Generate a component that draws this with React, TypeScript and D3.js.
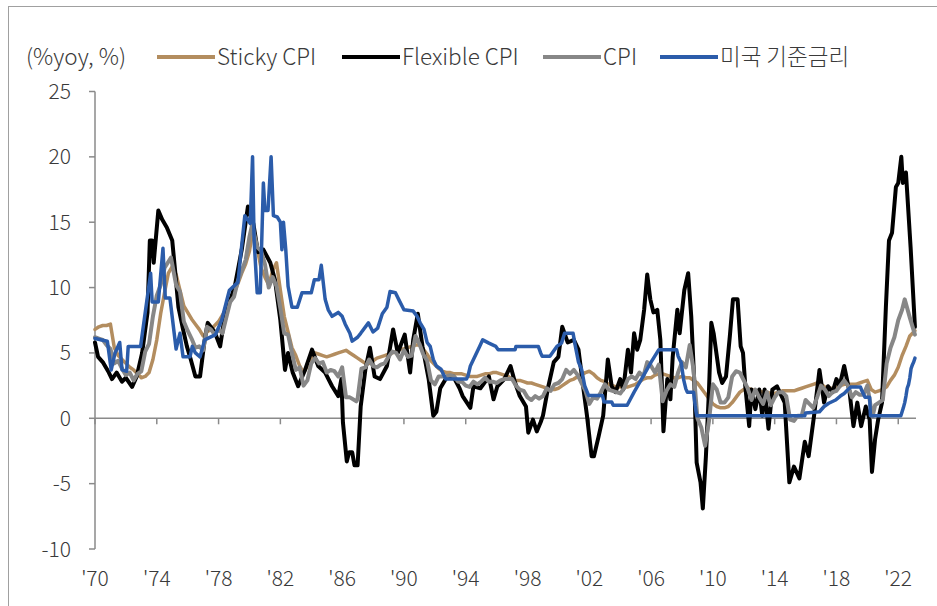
import React from "react";
import * as d3 from "d3";

type Pt = [number, number];

const legendLabels = ["Sticky CPI", "Flexible CPI", "CPI", "미국 기준금리"];
const seriesColors = ["#B38D5F", "#000000", "#878787", "#2B5CAA"];
const seriesWidths = [3.5, 4, 4, 3.5];
const yTicks = [25, 20, 15, 10, 5, 0, -5, -10];
const xTickYears = [1970, 1974, 1978, 1982, 1986, 1990, 1994, 1998, 2002, 2006, 2010, 2014, 2018, 2022];
const xTickLabels = ["'70", "'74", "'78", "'82", "'86", "'90", "'94", "'98", "'02", "'06", "'10", "'14", "'18", "'22"];
const unitLabel = "(%yoy, %)";

const stickyCPI: Pt[] = [
  [1970, 6.8], [1970.25, 7.0], [1970.5, 7.1], [1970.75, 7.1],
  [1971, 7.2], [1971.25, 5.4], [1971.5, 4.8], [1971.75, 4.5],
  [1972, 4.2], [1972.25, 3.9], [1972.5, 3.7], [1972.75, 3.4],
  [1973, 3.1], [1973.25, 3.2], [1973.5, 3.5], [1973.75, 4.5],
  [1974, 6.0], [1974.25, 8.0], [1974.5, 9.6], [1974.75, 11.1],
  [1975, 11.6], [1975.25, 11.0], [1975.5, 9.8], [1975.75, 8.6],
  [1976, 8.1], [1976.25, 7.6], [1976.5, 7.2], [1976.75, 6.8],
  [1977, 6.3], [1977.25, 6.6], [1977.5, 6.8], [1977.75, 7.1],
  [1978, 7.4], [1978.25, 7.9], [1978.5, 8.3], [1978.75, 9.0],
  [1979, 9.6], [1979.25, 10.3], [1979.5, 11.1], [1979.75, 11.8],
  [1980, 12.8], [1980.25, 14.6], [1980.5, 13.0], [1980.75, 11.5],
  [1981, 10.8], [1981.25, 10.2], [1981.5, 11.3], [1981.75, 11.9],
  [1982, 9.8], [1982.25, 7.8], [1982.5, 6.6], [1982.75, 5.4],
  [1983, 4.8], [1983.25, 4.0], [1983.5, 3.5], [1983.75, 4.0],
  [1984, 4.5], [1984.25, 5.0], [1984.5, 4.9], [1984.75, 4.8],
  [1985, 4.7], [1985.25, 4.8], [1985.5, 4.9], [1985.75, 5.0],
  [1986, 5.1], [1986.25, 5.2], [1986.5, 5.0], [1986.75, 4.8],
  [1987, 4.6], [1987.25, 4.4], [1987.5, 4.2], [1987.75, 4.2],
  [1988, 4.4], [1988.25, 4.6], [1988.5, 4.7], [1988.75, 4.8],
  [1989, 4.9], [1989.25, 5.0], [1989.5, 5.1], [1989.75, 5.3],
  [1990, 5.3], [1990.25, 5.4], [1990.5, 5.5], [1990.75, 5.6],
  [1991, 5.6], [1991.25, 5.3], [1991.5, 4.9], [1991.75, 4.4],
  [1992, 4.1], [1992.25, 3.8], [1992.5, 3.6], [1992.75, 3.5],
  [1993, 3.5], [1993.25, 3.4], [1993.5, 3.4], [1993.75, 3.4],
  [1994, 3.3], [1994.25, 3.2], [1994.5, 3.2], [1994.75, 3.2],
  [1995, 3.3], [1995.25, 3.4], [1995.5, 3.4], [1995.75, 3.5],
  [1996, 3.5], [1996.25, 3.4], [1996.5, 3.3], [1996.75, 3.2],
  [1997, 3.0], [1997.25, 2.9], [1997.5, 2.9], [1997.75, 2.8],
  [1998, 2.7], [1998.25, 2.7], [1998.5, 2.6], [1998.75, 2.5],
  [1999, 2.4], [1999.25, 2.3], [1999.5, 2.2], [1999.75, 2.2],
  [2000, 2.3], [2000.25, 2.5], [2000.5, 2.7], [2000.75, 2.9],
  [2001, 3.0], [2001.25, 3.2], [2001.5, 3.3], [2001.75, 3.5],
  [2002, 3.6], [2002.25, 3.4], [2002.5, 3.1], [2002.75, 2.9],
  [2003, 2.8], [2003.25, 2.6], [2003.5, 2.5], [2003.75, 2.4],
  [2004, 2.4], [2004.25, 2.4], [2004.5, 2.4], [2004.75, 2.5],
  [2005, 2.6], [2005.25, 2.8], [2005.5, 3.0], [2005.75, 3.1],
  [2006, 3.1], [2006.25, 3.3], [2006.5, 3.4], [2006.75, 3.4],
  [2007, 3.3], [2007.25, 3.2], [2007.5, 3.1], [2007.75, 3.1],
  [2008, 3.2], [2008.25, 3.1], [2008.5, 3.1], [2008.75, 2.9],
  [2009, 2.7], [2009.25, 2.3], [2009.5, 1.9], [2009.75, 1.5],
  [2010, 1.1], [2010.25, 0.9], [2010.5, 0.8], [2010.75, 0.8],
  [2011, 0.9], [2011.25, 1.2], [2011.5, 1.6], [2011.75, 2.0],
  [2012, 2.2], [2012.25, 2.3], [2012.5, 2.2], [2012.75, 2.1],
  [2013, 2.1], [2013.25, 2.0], [2013.5, 2.0], [2013.75, 1.9],
  [2014, 1.9], [2014.25, 2.0], [2014.5, 2.1], [2014.75, 2.1],
  [2015, 2.1], [2015.25, 2.1], [2015.5, 2.2], [2015.75, 2.3],
  [2016, 2.4], [2016.25, 2.5], [2016.5, 2.6], [2016.75, 2.7],
  [2017, 2.6], [2017.25, 2.4], [2017.5, 2.3], [2017.75, 2.3],
  [2018, 2.4], [2018.25, 2.5], [2018.5, 2.6], [2018.75, 2.6],
  [2019, 2.6], [2019.25, 2.6], [2019.5, 2.7], [2019.75, 2.8],
  [2020, 2.9], [2020.25, 2.2], [2020.5, 2.0], [2020.75, 2.1],
  [2021, 2.2], [2021.25, 2.4], [2021.5, 2.9], [2021.75, 3.3],
  [2022, 3.9], [2022.25, 4.8], [2022.5, 5.5], [2022.75, 6.3],
  [2023.08, 6.7],
];

const flexibleCPI: Pt[] = [
  [1970, 5.8], [1970.2, 4.7], [1970.5, 4.3], [1970.85, 3.6], [1971.1, 3.0], [1971.4, 3.5],
  [1971.75, 2.8], [1972, 3.1], [1972.4, 2.4], [1972.7, 3.2], [1973.05, 5.0], [1973.4, 8.1],
  [1973.55, 13.6], [1973.7, 13.6], [1973.8, 11.9], [1974.1, 15.9], [1974.35, 15.2], [1974.65, 14.6],
  [1975, 13.6], [1975.2, 11.1], [1975.4, 8.5], [1975.7, 6.8], [1975.95, 5.5], [1976.2, 4.5],
  [1976.5, 3.2], [1976.8, 3.2], [1977.1, 6.0], [1977.3, 7.3], [1977.75, 6.6], [1978.1, 5.5],
  [1978.4, 7.8], [1979.05, 10.1], [1979.5, 12.9], [1979.9, 16.2], [1980.25, 14.9], [1980.55, 12.7],
  [1980.9, 12.9], [1981.35, 11.9], [1981.65, 10.6], [1982, 7.5], [1982.3, 3.7], [1982.5, 5.0],
  [1982.8, 3.5], [1983.15, 2.45], [1983.6, 3.7], [1984.05, 5.25], [1984.45, 4.0], [1984.9, 3.5],
  [1985.35, 2.45], [1985.75, 1.7], [1985.95, 3.0], [1986.05, -0.3], [1986.3, -3.3], [1986.45, -2.6],
  [1986.65, -2.6], [1986.8, -3.6], [1987, -3.6], [1987.2, 0.9], [1987.5, 3.7], [1987.8, 5.4],
  [1988.1, 3.2], [1988.45, 3.0], [1988.9, 4.0], [1989.3, 6.8], [1989.6, 5.0], [1990.05, 6.4],
  [1990.4, 3.5], [1990.6, 6.0], [1990.9, 8.0], [1991.2, 5.5], [1991.6, 3.0], [1991.9, 0.2],
  [1992.1, 0.5], [1992.35, 2.3], [1992.8, 3.2], [1993.2, 3.2], [1993.6, 2.3], [1993.8, 1.7],
  [1994.3, 0.8], [1994.5, 2.45], [1994.95, 2.3], [1995.5, 3.2], [1995.8, 1.45], [1996.05, 2.45],
  [1996.5, 3.0], [1996.9, 4.0], [1997.2, 2.7], [1997.5, 1.7], [1997.9, 0.9], [1998.05, -1.1],
  [1998.35, -0.1], [1998.6, -1.0], [1998.85, -0.3], [1999, 0.2], [1999.35, 2.45], [1999.7, 4.3],
  [2000, 4.7], [2000.25, 7.0], [2000.6, 5.8], [2001, 6.0], [2001.3, 5.25], [2001.6, 2.45],
  [2001.85, 0.2], [2002.15, -2.9], [2002.3, -2.9], [2002.6, -1.4], [2002.9, 0.2], [2003.2, 4.5],
  [2003.45, 2.45], [2003.7, 2.0], [2004, 3.0], [2004.2, 2.2], [2004.5, 5.25], [2004.7, 3.5],
  [2004.9, 6.5], [2005.1, 5.25], [2005.3, 6.0], [2005.55, 8.3], [2005.75, 11.0], [2005.95, 9.1],
  [2006.15, 8.1], [2006.4, 8.3], [2006.6, 6.0], [2006.8, -1.0], [2007.05, 3.0], [2007.25, 1.45],
  [2007.4, 4.7], [2007.7, 8.3], [2007.85, 6.5], [2008.15, 9.8], [2008.4, 11.1], [2008.6, 7.8],
  [2008.8, 2.7], [2008.95, -3.4], [2009.2, -4.9], [2009.35, -6.9], [2009.55, -2.9], [2009.75, 2.2],
  [2009.9, 7.3], [2010.05, 6.5], [2010.4, 3.5], [2010.6, 2.7], [2010.85, 3.2], [2011.1, 6.3],
  [2011.3, 9.1], [2011.6, 9.1], [2011.8, 5.5], [2011.95, 5.0], [2012.1, 2.45], [2012.35, -0.6],
  [2012.5, 2.2], [2012.75, 0.7], [2013, 2.2], [2013.2, 0.2], [2013.35, 2.2], [2013.6, -0.8],
  [2013.85, 2.2], [2014.15, 2.45], [2014.45, 1.7], [2014.65, 1.2], [2014.95, -4.9], [2015.25, -3.7],
  [2015.6, -4.6], [2015.95, -1.8], [2016.2, -2.9], [2016.55, 0.2], [2016.9, 3.7], [2017.2, 1.2],
  [2017.45, 2.45], [2017.75, 2.0], [2018, 3.0], [2018.2, 2.45], [2018.5, 4.0], [2018.85, 2.0],
  [2019.1, -0.6], [2019.35, 1.2], [2019.6, -0.6], [2019.9, 0.9], [2020.15, -0.1], [2020.3, -4.1],
  [2020.5, -1.6], [2020.7, -0.1], [2020.95, 1.2], [2021.2, 8.5], [2021.4, 13.6], [2021.6, 14.2],
  [2021.85, 17.7], [2022, 18.0], [2022.2, 20.0], [2022.3, 18.0], [2022.5, 18.8], [2022.8, 13.1],
  [2023.08, 7.0],
];

const headlineCPI: Pt[] = [
  [1970, 6.2], [1970.25, 6.1], [1970.5, 6.0], [1970.75, 5.6],
  [1971, 5.3], [1971.25, 4.2], [1971.5, 4.4], [1971.75, 3.8],
  [1972, 3.3], [1972.25, 3.5], [1972.5, 2.9], [1972.75, 3.4],
  [1973, 3.6], [1973.25, 5.1], [1973.5, 5.7], [1973.75, 7.8],
  [1974, 9.4], [1974.25, 10.2], [1974.5, 11.5], [1974.92, 12.3],
  [1975, 11.8], [1975.25, 10.2], [1975.5, 9.7], [1975.75, 7.4],
  [1976, 6.7], [1976.25, 6.1], [1976.5, 5.4], [1976.75, 5.5],
  [1977, 5.2], [1977.25, 7.0], [1977.5, 6.8], [1977.75, 6.4],
  [1978, 6.8], [1978.25, 6.5], [1978.5, 7.7], [1978.75, 8.9],
  [1979, 9.3], [1979.25, 10.5], [1979.5, 11.3], [1979.75, 12.1],
  [1980, 13.9], [1980.17, 14.8], [1980.5, 13.1], [1980.75, 12.8],
  [1981, 11.8], [1981.25, 10.0], [1981.5, 10.8], [1981.75, 10.1],
  [1982, 8.4], [1982.25, 6.5], [1982.5, 6.4], [1982.75, 5.0],
  [1983, 3.7], [1983.25, 3.9], [1983.5, 2.5], [1983.75, 2.9],
  [1984, 4.2], [1984.25, 4.6], [1984.5, 4.2], [1984.75, 4.3],
  [1985, 3.5], [1985.25, 3.7], [1985.5, 3.6], [1985.75, 3.2],
  [1986, 3.9], [1986.25, 1.6], [1986.5, 1.6], [1986.92, 1.3],
  [1987, 1.5], [1987.25, 3.8], [1987.5, 3.9], [1987.75, 4.5],
  [1988, 4.0], [1988.25, 3.9], [1988.5, 4.1], [1988.75, 4.2],
  [1989, 4.7], [1989.25, 5.1], [1989.5, 5.0], [1989.75, 4.5],
  [1990, 5.2], [1990.25, 4.7], [1990.5, 4.8], [1990.75, 6.3],
  [1991, 5.7], [1991.25, 4.9], [1991.5, 4.4], [1991.75, 2.9],
  [1992, 2.6], [1992.25, 3.2], [1992.5, 3.2], [1992.75, 3.2],
  [1993, 3.3], [1993.25, 3.2], [1993.5, 2.8], [1993.75, 2.8],
  [1994, 2.5], [1994.25, 2.4], [1994.5, 2.8], [1994.75, 2.6],
  [1995, 2.8], [1995.25, 3.1], [1995.5, 2.8], [1995.75, 2.8],
  [1996, 2.7], [1996.25, 2.9], [1996.5, 3.0], [1996.75, 3.0],
  [1997, 3.0], [1997.25, 2.5], [1997.5, 2.2], [1997.75, 2.1],
  [1998, 1.6], [1998.25, 1.4], [1998.5, 1.7], [1998.75, 1.5],
  [1999, 1.7], [1999.25, 2.3], [1999.5, 2.1], [1999.75, 2.6],
  [2000, 2.7], [2000.25, 3.0], [2000.5, 3.7], [2000.75, 3.4],
  [2001, 3.7], [2001.25, 3.3], [2001.5, 2.7], [2001.75, 2.1],
  [2002, 1.1], [2002.25, 1.6], [2002.5, 1.5], [2002.75, 2.0],
  [2003, 2.6], [2003.25, 2.2], [2003.5, 2.1], [2003.75, 2.0],
  [2004, 1.9], [2004.25, 2.3], [2004.5, 3.0], [2004.75, 3.2],
  [2005, 3.0], [2005.25, 3.5], [2005.5, 3.2], [2005.75, 4.3],
  [2006, 4.0], [2006.25, 3.5], [2006.5, 4.1], [2006.75, 1.3],
  [2007, 2.1], [2007.25, 2.6], [2007.5, 2.4], [2007.75, 3.5],
  [2008, 4.3], [2008.25, 3.9], [2008.5, 5.6], [2008.75, 3.7],
  [2009, 0.0], [2009.25, -0.7], [2009.5, -2.1], [2009.75, -0.2],
  [2010, 2.6], [2010.25, 2.2], [2010.5, 1.2], [2010.75, 1.2],
  [2011, 1.6], [2011.25, 3.2], [2011.5, 3.6], [2011.75, 3.5],
  [2012, 2.9], [2012.25, 2.3], [2012.5, 1.4], [2012.75, 2.2],
  [2013, 1.6], [2013.25, 1.1], [2013.5, 2.0], [2013.75, 1.0],
  [2014, 1.6], [2014.25, 2.0], [2014.5, 2.0], [2014.75, 1.7],
  [2015, -0.1], [2015.25, -0.2], [2015.5, 0.2], [2015.75, 0.2],
  [2016, 1.4], [2016.25, 1.1], [2016.5, 0.8], [2016.75, 1.6],
  [2017, 2.5], [2017.25, 2.2], [2017.5, 1.7], [2017.75, 2.0],
  [2018, 2.1], [2018.25, 2.5], [2018.5, 2.9], [2018.75, 2.5],
  [2019, 1.6], [2019.25, 2.0], [2019.5, 1.8], [2019.75, 1.8],
  [2020, 2.5], [2020.33, 0.1], [2020.5, 1.0], [2020.75, 1.2],
  [2021, 1.4], [2021.25, 4.2], [2021.5, 5.4], [2021.75, 6.2],
  [2022, 7.5], [2022.25, 8.3], [2022.42, 9.1], [2022.75, 7.7],
  [2023.08, 6.4],
];

const fedRate: Pt[] = [
  [1970, 6.1], [1970.8, 5.9], [1971.05, 3.7], [1971.3, 5.0], [1971.6, 5.8], [1971.75, 3.7],
  [1972.05, 3.6], [1972.15, 5.5], [1972.95, 5.5], [1973.6, 11.1], [1973.7, 8.9], [1974.1, 8.9],
  [1974.4, 13.0], [1974.55, 9.2], [1974.85, 9.2], [1975.25, 5.3], [1975.5, 6.5], [1975.7, 4.7],
  [1976.15, 4.7], [1976.3, 5.5], [1976.5, 5.0], [1976.8, 4.7], [1977.1, 6.0], [1977.8, 6.4],
  [1978.2, 7.5], [1978.7, 9.8], [1979.25, 10.4], [1979.7, 15.5], [1980.05, 14.9], [1980.2, 20.0],
  [1980.3, 13.6], [1980.5, 9.6], [1980.7, 9.6], [1980.9, 18.0], [1981, 15.9], [1981.2, 15.9],
  [1981.4, 20.0], [1981.55, 15.5], [1981.8, 15.4], [1982, 15.0], [1982.1, 12.9], [1982.2, 15.0],
  [1982.35, 12.9], [1982.5, 10.1], [1982.75, 8.5], [1983.1, 8.5], [1983.4, 9.6], [1984, 9.6],
  [1984.2, 10.6], [1984.5, 10.6], [1984.65, 11.7], [1984.9, 9.1], [1985.1, 8.3], [1985.35, 7.8],
  [1985.75, 8.1], [1986, 7.8], [1986.2, 7.2], [1986.5, 6.5], [1986.65, 5.9], [1987, 6.2],
  [1987.2, 6.5], [1987.7, 7.3], [1988, 6.6], [1988.3, 6.9], [1988.6, 8.0], [1988.9, 8.5],
  [1989.1, 9.7], [1989.45, 9.6], [1989.7, 9.0], [1990, 8.3], [1990.6, 8.2], [1990.85, 7.8],
  [1991.05, 7.3], [1991.3, 6.8], [1991.5, 5.8], [1991.7, 5.5], [1991.9, 4.5], [1992.1, 4.0],
  [1992.4, 3.75], [1992.7, 3.0], [1994.05, 3.0], [1994.15, 3.25], [1994.3, 4.0], [1994.6, 4.75],
  [1994.9, 5.5], [1995.1, 6.0], [1995.5, 5.75], [1995.95, 5.5], [1996.1, 5.25], [1997.2, 5.25],
  [1997.25, 5.5], [1998.7, 5.5], [1998.85, 5.0], [1998.95, 4.75], [1999.45, 4.75], [1999.6, 5.0],
  [1999.9, 5.5], [2000.2, 5.75], [2000.4, 6.5], [2000.95, 6.5], [2001.1, 5.5], [2001.3, 4.3],
  [2001.5, 3.75], [2001.7, 2.5], [2001.95, 1.75], [2002.85, 1.75], [2002.95, 1.25], [2003.45, 1.25],
  [2003.55, 1.0], [2004.45, 1.0], [2004.9, 2.0], [2005.5, 3.25], [2006.0, 4.3], [2006.5, 5.25],
  [2007.65, 5.25], [2007.75, 4.75], [2007.95, 4.25], [2008.1, 3.0], [2008.25, 2.25], [2008.35, 2.0],
  [2008.75, 2.0], [2008.85, 1.0], [2008.95, 0.2], [2015.95, 0.2], [2016.0, 0.4], [2016.9, 0.5],
  [2017.2, 0.9], [2017.5, 1.15], [2017.95, 1.4], [2018.25, 1.7], [2018.5, 1.9], [2018.75, 2.2],
  [2018.95, 2.4], [2019.55, 2.4], [2019.65, 2.1], [2019.85, 1.6], [2020.15, 1.6], [2020.2, 0.2],
  [2022.17, 0.2], [2022.33, 0.8], [2022.42, 1.2], [2022.5, 1.7], [2022.58, 2.3], [2022.67, 2.6],
  [2022.75, 3.1], [2022.83, 3.8], [2022.92, 4.1], [2023.0, 4.3], [2023.08, 4.6],
];

const seriesData: Pt[][] = [stickyCPI, flexibleCPI, headlineCPI, fedRate];

const W = 937;
const H = 606;
const FONT = "'Noto Sans CJK KR', 'Noto Sans', sans-serif";

export default function App() {
  const x = d3.scaleLinear().domain([1970, 2023.15]).range([95, 916]);
  const y = d3.scaleLinear().domain([-10, 25]).range([549, 91.5]);
  const line = d3
    .line<Pt>()
    .x((d) => x(d[0]))
    .y((d) => y(d[1]))
    .curve(d3.curveLinear);

  const axisColor = "#8a8a8a";
  const textColor = "#3a3a3a";
  const legendX = [157, 342, 543, 660];

  return (
    <div style={{ position: "fixed", left: 0, top: 0, width: W, height: H, background: "#fff" }}>
      <svg width={W} height={H} viewBox={`0 0 ${W} ${H}`} style={{ display: "block" }}>
        <rect x={0} y={0} width={W} height={H} fill="#fff" />
        <line x1={8.5} x2={8.5} y1={6} y2={H} stroke="#a0a0a0" strokeWidth={1} />
        <line x1={8} x2={W} y1={6.5} y2={6.5} stroke="#a0a0a0" strokeWidth={1} />

        <text x={26} y={64.5} fontFamily={FONT} fontSize={22.5} fontWeight={300} fill={textColor}>
          {unitLabel}
        </text>
        {legendLabels.map((lab, i) => (
          <g key={lab}>
            <line
              x1={legendX[i]}
              x2={legendX[i] + 58}
              y1={57}
              y2={57}
              stroke={seriesColors[i]}
              strokeWidth={4}
            />
            <text
              x={legendX[i] + 60}
              y={65}
              fontFamily={FONT}
              fontSize={22.5}
              fontWeight={300}
              fill={textColor}
            >
              {lab}
            </text>
          </g>
        ))}

        {/* y axis */}
        <line x1={95} x2={95} y1={y(25)} y2={y(-10)} stroke={axisColor} strokeWidth={1.5} />
        {yTicks.map((t) => (
          <g key={t}>
            <line x1={89} x2={95} y1={y(t)} y2={y(t)} stroke={axisColor} strokeWidth={1.5} />
            <text
              x={71}
              y={y(t) + 7.5}
              textAnchor="end"
              fontFamily={FONT}
              fontSize={21}
              fontWeight={300}
              fill={textColor}
            >
              {t}
            </text>
          </g>
        ))}

        {/* x axis at zero */}
        <line x1={95} x2={916} y1={y(0)} y2={y(0)} stroke={axisColor} strokeWidth={1.5} />
        {xTickYears.map((yr, i) => (
          <g key={yr}>
            <line x1={x(yr)} x2={x(yr)} y1={y(0)} y2={y(0) + 6} stroke={axisColor} strokeWidth={1.5} />
            <text
              x={x(yr)}
              y={586}
              textAnchor="middle"
              fontFamily={FONT}
              fontSize={21}
              fontWeight={300}
              fill={textColor}
            >
              {xTickLabels[i]}
            </text>
          </g>
        ))}

        {seriesData.map((d, i) => (
          <path
            key={legendLabels[i]}
            d={line(d) || ""}
            fill="none"
            stroke={seriesColors[i]}
            strokeWidth={seriesWidths[i]}
            strokeLinejoin="round"
            strokeLinecap="round"
          />
        ))}
      </svg>
    </div>
  );
}
